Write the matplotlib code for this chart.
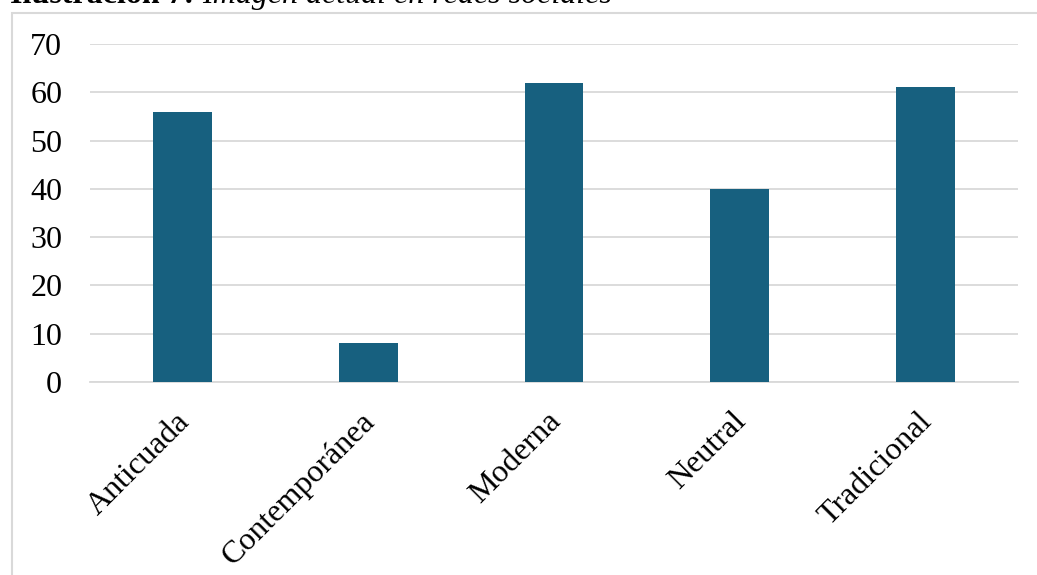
import matplotlib
matplotlib.use("Agg")
import matplotlib.pyplot as plt
from matplotlib.patches import Rectangle
from matplotlib.transforms import ScaledTranslation

categories = ["Anticuada", "Contemporánea", "Moderna", "Neutral", "Tradicional"]
values = [56, 8, 62, 40, 61]
yticks = [0, 10, 20, 30, 40, 50, 60, 70]

plt.rcParams['font.family'] = ['Liberation Serif', 'DejaVu Serif']

W, H = 1037, 575
fig = plt.figure(figsize=(W/100, H/100), dpi=100)

# outer chart border (partly off-canvas)
fig.patches.append(Rectangle((12/W, -0.05), 1.1, 1 - 13/H + 0.05, transform=fig.transFigure,
                             fill=False, edgecolor='#d9d9d9', linewidth=1.5))

# title, cut at top
ty = 1 - 3/H
t = fig.text(10/W, ty, "Ilustración 7: ", fontsize=23, fontweight='bold', va='baseline', ha='left')
fig.canvas.draw()
bb = t.get_window_extent()
fig.text(bb.x1 / W, ty, "Imagen actual en redes sociales", fontsize=23, style='italic',
         va='baseline', ha='left')

ax = fig.add_axes([90/W, 1 - 382/H, (1018-90)/W, (382-44)/H])
x = list(range(len(categories)))
ax.bar(x, values, width=0.317, color='#17607f', zorder=3)
ax.set_xlim(-0.5, len(categories) - 0.5)
ax.set_ylim(0, 70)
ax.set_yticks(yticks)
ax.set_yticklabels([str(v) for v in yticks], fontsize=23)
ax.yaxis.grid(True, color='#d9d9d9', linewidth=1.3, zorder=0)
ax.set_xticks(x)
ax.set_xticklabels(categories, fontsize=23, rotation=45, ha='right', rotation_mode='anchor')
ax.tick_params(axis='both', length=0)
ax.tick_params(axis='y', pad=20)
ax.tick_params(axis='x', pad=18)
offset = ScaledTranslation(-8/100, 0, fig.dpi_scale_trans)
for lbl in ax.get_xticklabels():
    lbl.set_transform(lbl.get_transform() + offset)
for s in ['top', 'right', 'left']:
    ax.spines[s].set_visible(False)
ax.spines['bottom'].set_color('#d9d9d9')
ax.spines['bottom'].set_linewidth(1.3)

fig.savefig("out.png", dpi=100)
